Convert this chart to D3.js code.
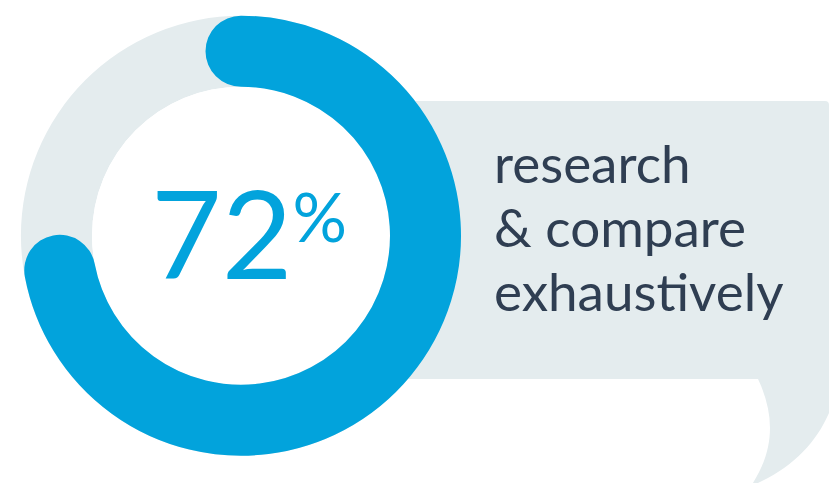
<!DOCTYPE html>
<html>
<head>
<meta charset="utf-8">
<script src="https://cdn.jsdelivr.net/npm/d3@7"></script>
<style>
  html, body { margin: 0; padding: 0; background: #ffffff; }
  svg { display: block; }
</style>
</head>
<body>
<svg id="chart" width="829" height="483"></svg>
<script>
// Share of respondents and its caption
const shareValue = [72];
const shareMax = [100];
const captionLines = ["research", "& compare", "exhaustively"];

const W = 829, H = 483;
const svg = d3.select("#chart");

const cx = 241, cy = 235.7;
const rOuter = 220, rInner = 149;
const rMid = (rOuter + rInner) / 2;
const band = rOuter - rInner;

const blue = "#02a3dc";
const grey = "#e4ecee";
const ink = "#2f3e52";

// Speech-bubble panel behind the caption
const bubble = d3.path();
bubble.moveTo(cx, 101);
bubble.lineTo(825, 101);
bubble.quadraticCurveTo(829, 101, 829, 105);
bubble.lineTo(829, 413);
bubble.bezierCurveTo(815, 445, 790, 470, 751, 486);
bubble.bezierCurveTo(775, 450, 775, 415, 758, 379);
bubble.lineTo(cx, 379);
bubble.closePath();
svg.append("path").attr("d", bubble.toString()).attr("fill", grey);

// Angle scale: percent -> radians clockwise from 12 o'clock
const angle = d3.scaleLinear().domain([0, shareMax[0]]).range([0, 2 * Math.PI]);

const g = svg.append("g").attr("transform", `translate(${cx},${cy})`);

// Full track ring
g.append("path")
  .attr("d", d3.arc().innerRadius(rInner).outerRadius(rOuter).startAngle(0).endAngle(2 * Math.PI)())
  .attr("fill", grey);

// White hole
g.append("circle").attr("r", rInner).attr("fill", "#ffffff");

// Value arc drawn as a round-capped stroke along the band centre
const valuePath = d3.path();
const a0 = angle(0) - Math.PI / 2, a1 = angle(shareValue[0]) - Math.PI / 2;
valuePath.moveTo(rMid * Math.cos(a0), rMid * Math.sin(a0));
valuePath.arc(0, 0, rMid, a0, a1, false);
g.append("path")
  .attr("d", valuePath.toString())
  .attr("fill", "none")
  .attr("stroke", blue)
  .attr("stroke-width", band)
  .attr("stroke-linecap", "round");

// Centre figure
const big = svg.append("text")
  .attr("x", 151)
  .attr("y", 279)
  .attr("fill", blue)
  .attr("font-family", "Lato, 'Open Sans', sans-serif")
  .attr("font-weight", 400);
big.append("tspan").attr("font-size", 122).text(shareValue[0]);
big.append("tspan").attr("font-size", 68).attr("dy", -37).text("%");

// Caption
svg.append("g")
  .selectAll("text")
  .data(captionLines)
  .join("text")
  .attr("x", 494)
  .attr("y", (d, i) => 183 + i * 64)
  .attr("fill", ink)
  .attr("font-family", "Lato, sans-serif")
  .attr("font-size", 53)
  .text(d => d);
</script>
</body>
</html>
